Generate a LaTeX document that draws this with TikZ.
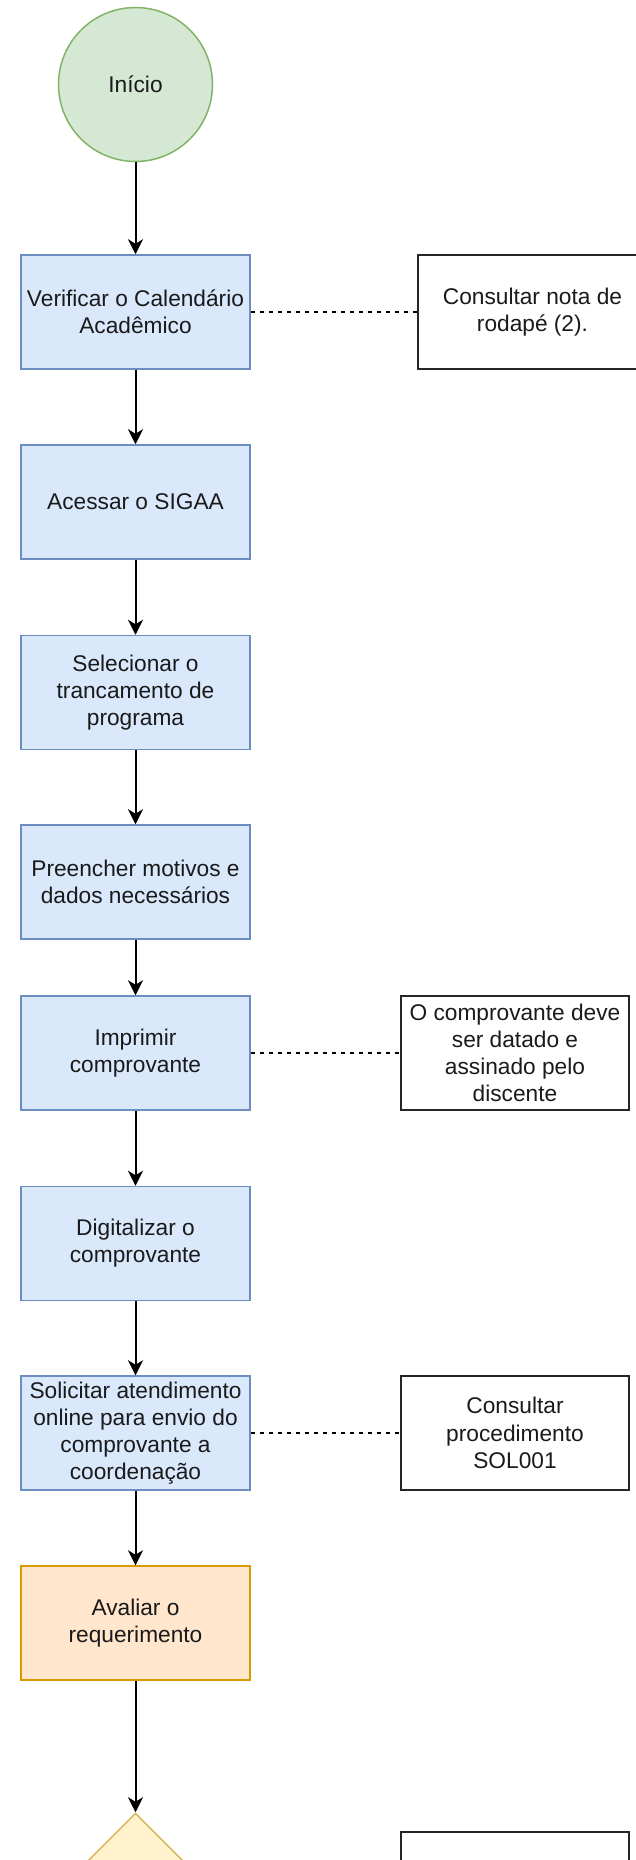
\documentclass[tikz,border=0pt]{standalone}
\usepackage{fontspec}
\setmainfont{Liberation Sans}
\usetikzlibrary{arrows.meta,shapes.geometric}
\definecolor{bfill}{HTML}{DAE8FC}
\definecolor{bdraw}{HTML}{6C8EBF}
\definecolor{gfill}{HTML}{D5E8D4}
\definecolor{gdraw}{HTML}{82B366}
\definecolor{ofill}{HTML}{FFE6CC}
\definecolor{odraw}{HTML}{D79B00}
\definecolor{yfill}{HTML}{FFF2CC}
\definecolor{ydraw}{HTML}{D6B656}
\definecolor{txt}{HTML}{1A1A1A}
\tikzset{
  every node/.style={font=\fontsize{22.7pt}{27.2pt}\selectfont, text=txt, align=center, inner sep=0pt},
  stepbox/.style={rectangle, draw=bdraw, fill=bfill, line width=1.5pt, minimum width=229pt, minimum height=114pt},
  evalbox/.style={rectangle, draw=odraw, fill=ofill, line width=1.5pt, minimum width=229pt, minimum height=114pt},
  notebox/.style={rectangle, draw=black!85, fill=white, line width=2pt, minimum width=228pt, minimum height=114pt},
  startnode/.style={circle, draw=gdraw, fill=gfill, line width=1.5pt, minimum size=154pt},
  decision/.style={diamond, aspect=1, draw=ydraw, fill=yfill, line width=1.5pt, minimum width=170pt, minimum height=170pt},
  flow/.style={line width=2pt, black, -{Stealth[length=15pt,width=15pt,inset=4.5pt]}},
  link/.style={line width=1.6pt, black, dash pattern=on 4.5pt off 4.5pt}
}
\begin{document}
\begin{tikzpicture}[x=1pt,y=1pt]
\useasboundingbox (0,0) rectangle (636,-1860);
\node[startnode] (ini) at (135.5,-84.5) {Início};
\node[stepbox] (ver) at (135.5,-312) {Verificar o Calendário\\Acadêmico};
\node[stepbox] (ace) at (135.5,-502) {Acessar o SIGAA};
\node[stepbox] (sel) at (135.5,-692.5) {Selecionar o\\trancamento de\\programa};
\node[stepbox] (pre) at (135.5,-882) {Preencher motivos e\\dados necessários};
\node[stepbox] (imp) at (135.5,-1053) {Imprimir\\comprovante};
\node[stepbox] (dig) at (135.5,-1243.5) {Digitalizar o\\comprovante};
\node[stepbox] (sol) at (135.5,-1433) {Solicitar atendimento\\online para envio do\\comprovante a\\coordenação};
\node[evalbox] (ava) at (135.5,-1623) {Avaliar o\\requerimento};
\node[decision] (dec) at (135.5,-1898) {};
\node[notebox, minimum width=229pt] (n1) at (532.5,-312) {Consultar nota de\\rodapé (2).};
\node[notebox] (n2) at (515,-1053) {O comprovante deve\\ser datado e\\assinado pelo\\discente};
\node[notebox] (n3) at (515,-1433) {Consultar\\procedimento\\SOL001};
\node[notebox] (n4) at (515,-1889) {};
\draw[flow] (ini) -- (ver);
\draw[flow] (ver) -- (ace);
\draw[flow] (ace) -- (sel);
\draw[flow] (sel) -- (pre);
\draw[flow] (pre) -- (imp);
\draw[flow] (imp) -- (dig);
\draw[flow] (dig) -- (sol);
\draw[flow] (sol) -- (ava);
\draw[flow] (ava) -- (dec);
\draw[link] (ver) -- (n1);
\draw[link] (imp) -- (n2);
\draw[link] (sol) -- (n3);
\end{tikzpicture}
\end{document}
